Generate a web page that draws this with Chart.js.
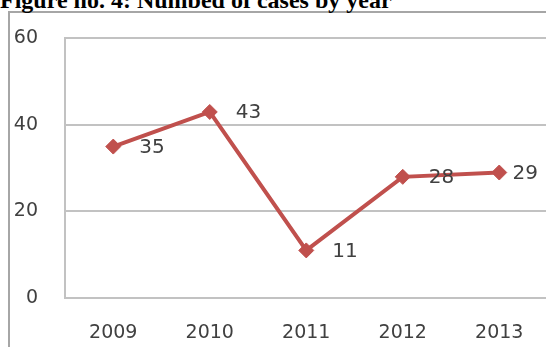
<!DOCTYPE html>
<html>
<head>
<meta charset="utf-8">
<script src="https://cdn.jsdelivr.net/npm/chart.js@4.4.1/dist/chart.umd.min.js"></script>
<style>
  html, body { margin: 0; padding: 0; background: #fff; overflow: hidden; }
  #wrap { position: relative; width: 546px; height: 347px; overflow: hidden; }
  #frame { position: absolute; left: 8px; top: 11px; right: -4px; bottom: -4px;
           border-left: 2px solid #a6a6a6; border-top: 2px solid #a6a6a6; }
  #title { position: absolute; left: 0; top: -12px; font-family: "Liberation Serif", "Times New Roman", serif;
           font-weight: bold; font-size: 24px; line-height: 24px; color: #000; white-space: nowrap; }
  canvas { position: absolute; left: 0; top: 0; }
</style>
</head>
<body>
<div id="wrap">
  <div id="frame"></div>
  <div id="title">Figure no. 4: Numbed of cases by year</div>
  <canvas id="c" width="556" height="347"></canvas>
</div>
<script>
const years = ['2009', '2010', '2011', '2012', '2013'];
const cases = [35, 43, 11, 28, 29];
const yTicks = [0, 20, 40, 60];

const lineColor = '#c0504d';
const gridColor = '#c2c2c2';
const textColor = '#404040';
const visibleWidth = 546;

const dataLabels = {
  id: 'dataLabels',
  afterDatasetsDraw(chart) {
    const ctx = chart.ctx;
    const meta = chart.getDatasetMeta(0);
    ctx.save();
    ctx.font = '20px "DejaVu Sans"';
    ctx.fillStyle = textColor;
    ctx.textBaseline = 'middle';
    ctx.textAlign = 'left';
    meta.data.forEach((pt, i) => {
      const txt = String(chart.data.datasets[0].data[i]);
      const w = ctx.measureText(txt).width;
      let x = pt.x + 26;
      const maxRight = visibleWidth - 8;
      if (x + w > maxRight) x = maxRight - w;
      ctx.fillText(txt, x, pt.y + 1);
    });
    ctx.restore();
  }
};

new Chart(document.getElementById('c'), {
  type: 'line',
  data: {
    labels: years,
    datasets: [{
      data: cases,
      borderColor: lineColor,
      backgroundColor: lineColor,
      borderWidth: 4,
      pointStyle: 'rectRot',
      pointRadius: 7.5,
      pointHoverRadius: 7.5,
      pointBorderWidth: 1,
      tension: 0,
      fill: false
    }]
  },
  options: {
    responsive: false,
    animation: false,
    devicePixelRatio: 1,
    layout: { padding: { top: 26, right: 0, bottom: 0, left: 0 } },
    plugins: { legend: { display: false }, tooltip: { enabled: false }, title: { display: false } },
    scales: {
      x: {
        type: 'category',
        offset: true,
        grid: { display: false, drawTicks: false },
        border: { display: true, color: gridColor, width: 2 },
        ticks: { color: textColor, font: { family: 'DejaVu Sans', size: 19 }, padding: 24, maxRotation: 0 },
        afterFit(scale) { scale.height = 49; }
      },
      y: {
        min: 0, max: 60,
        afterBuildTicks(scale) { scale.ticks = yTicks.map(v => ({ value: v })); },
        grid: { color: gridColor, lineWidth: 2, drawTicks: false },
        border: { display: true, color: gridColor, width: 2 },
        ticks: { color: textColor, font: { family: 'DejaVu Sans', size: 19 }, padding: 27 },
        afterFit(scale) { scale.width = 65; }
      }
    }
  },
  plugins: [dataLabels]
});
</script>
</body>
</html>
